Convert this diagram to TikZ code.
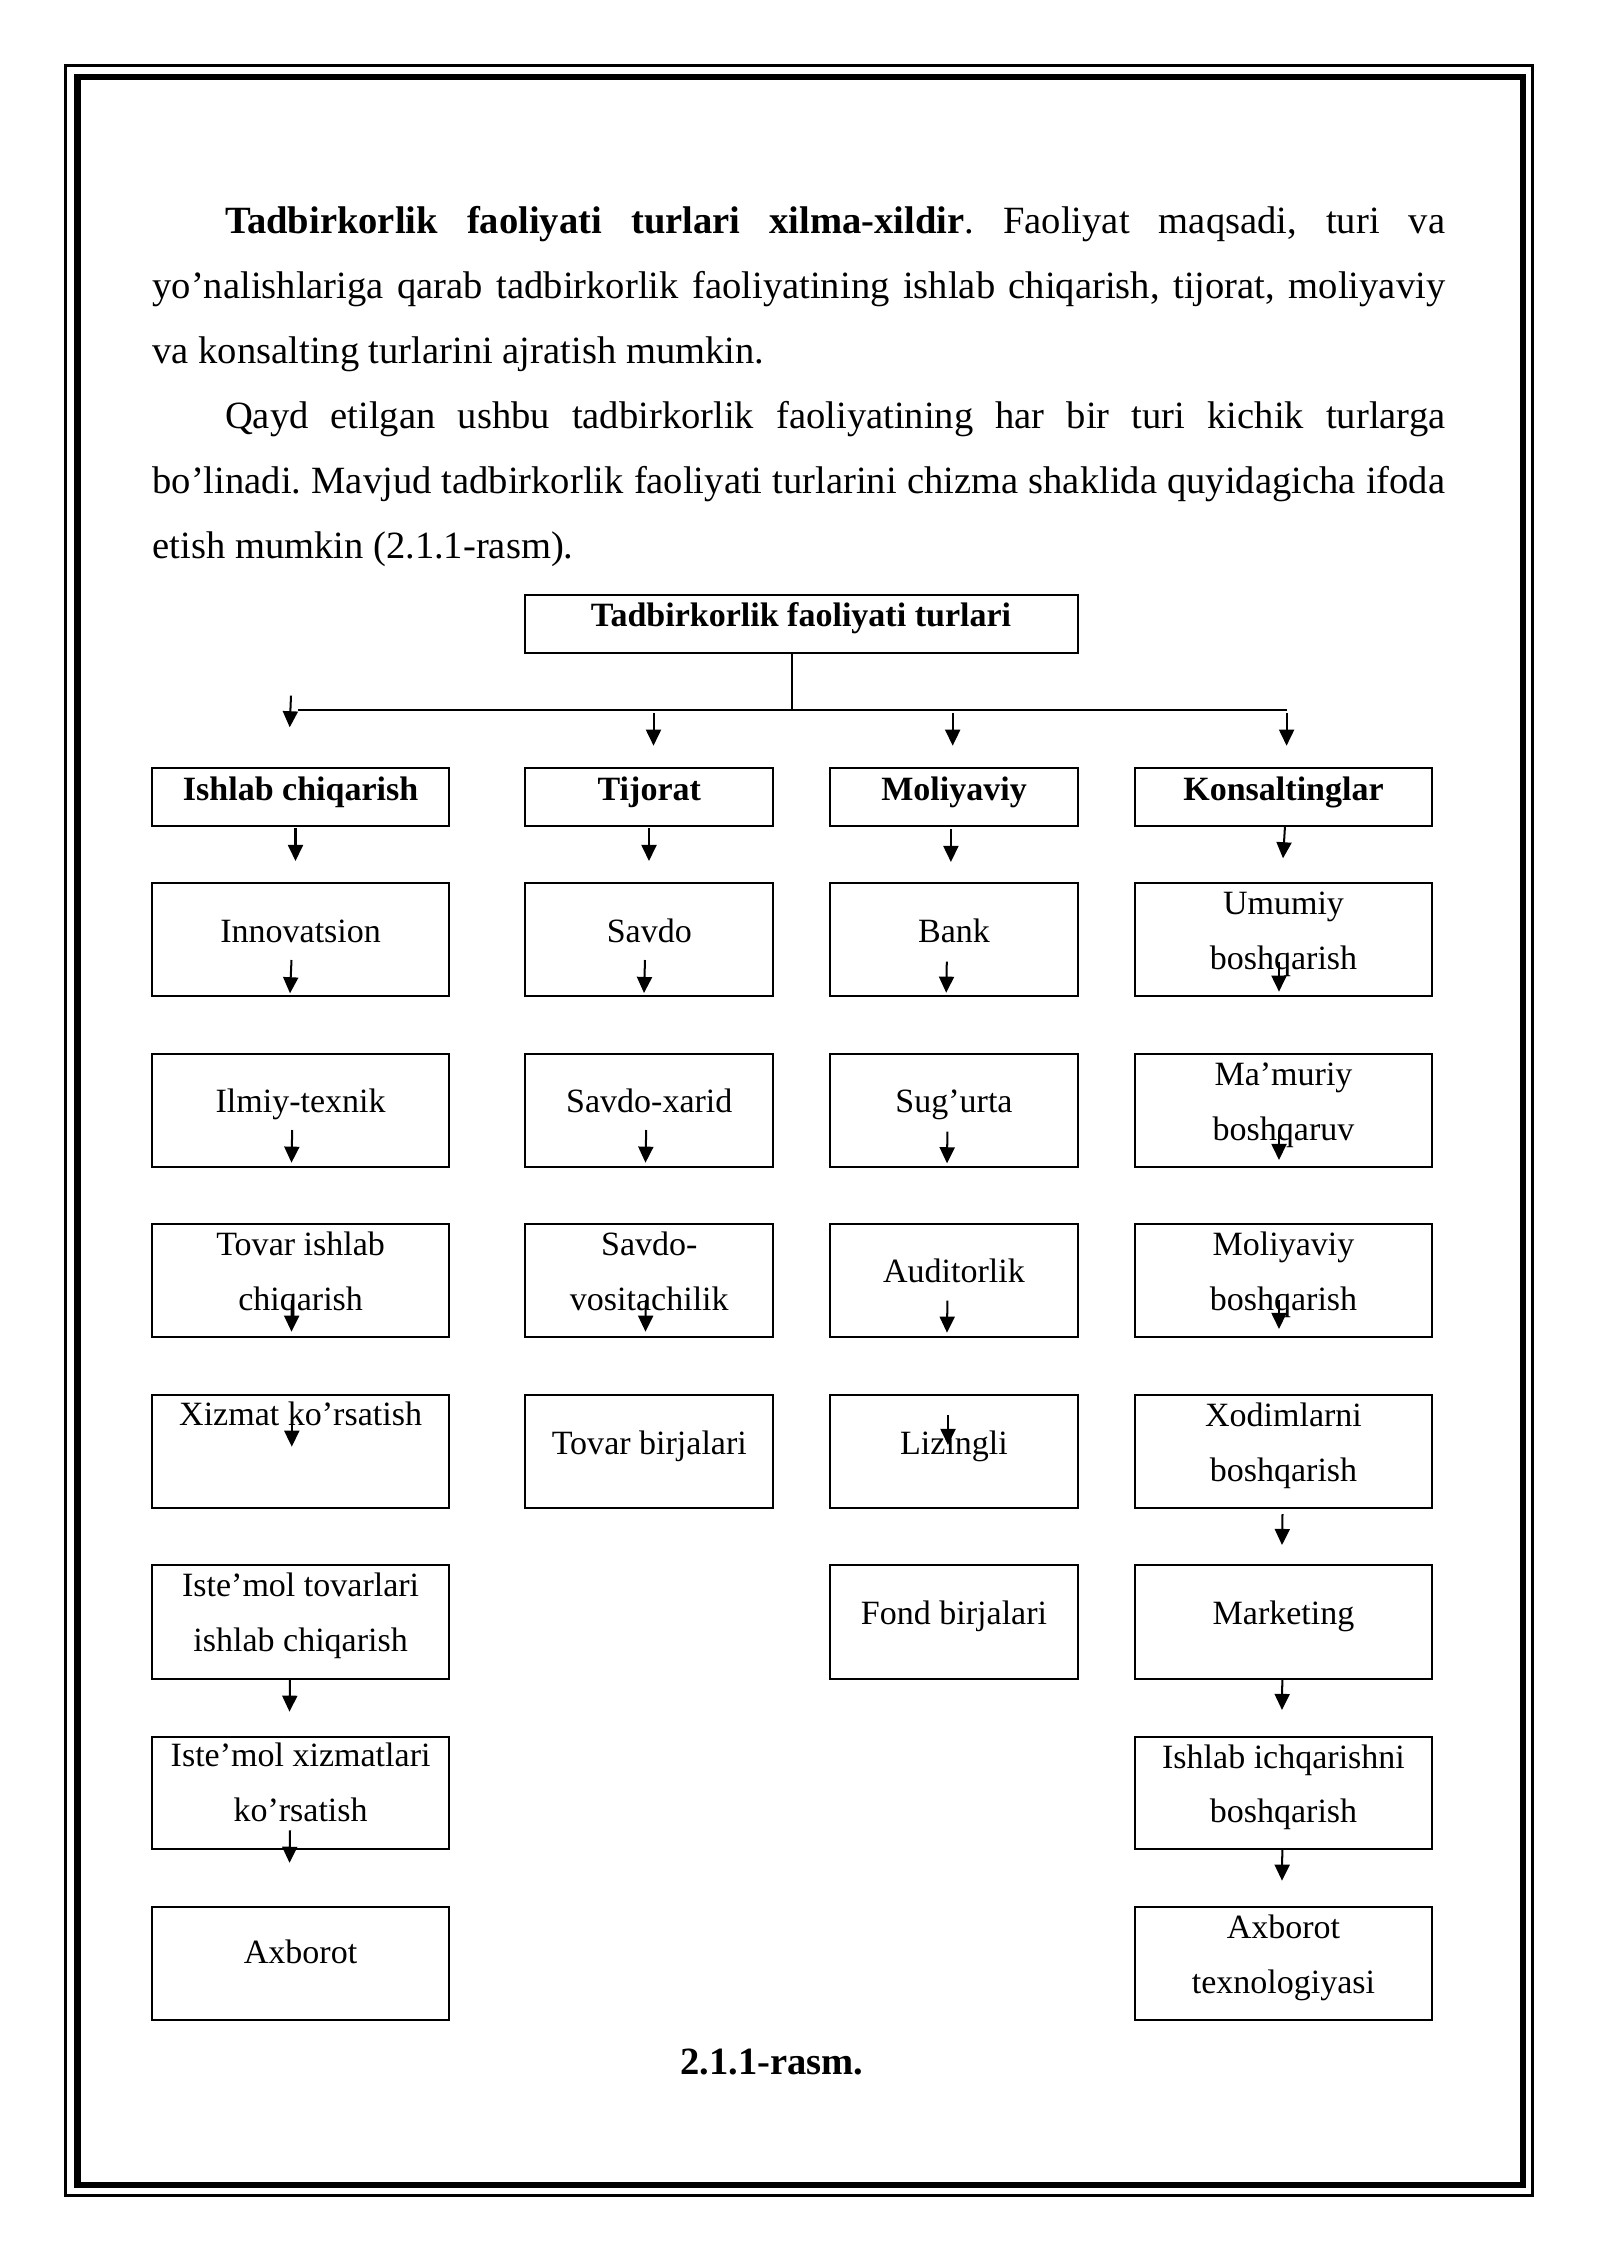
\documentclass[tikz,border=0pt]{standalone}
\usepackage{fontspec}
\setmainfont{Liberation Serif}
\frenchspacing
\usetikzlibrary{arrows.meta,fit}
\tikzset{
  box/.style={draw=black, line width=0.75pt, inner sep=0pt, rectangle},
  ln/.style={draw=black, line width=0.75pt},
  arw/.style={draw=black, line width=0.75pt, -{Triangle[length=6pt,width=5.6pt]}},
  ptxt/.style={inner sep=0pt, anchor=base west, font=\fontsize{14.4pt}{17pt}\selectfont\frenchspacing},
  dtxt/.style={inner sep=0pt, anchor=base, font=\fontsize{12.7pt}{15pt}\selectfont},
  dbold/.style={dtxt, font=\fontsize{12.7pt}{15pt}\selectfont\bfseries},
  ctxt/.style={inner sep=0pt, anchor=base, font=\fontsize{14.4pt}{17pt}\selectfont\bfseries},
  frameout/.style={draw=black, line width=1.1pt},
  framein/.style={draw=black, line width=2.4pt}
}
\newcommand\bx[5]{\node[box, fit={(#2,#3) (#4,#5)}] (#1) {};}
\newcommand\arr[5]{\coordinate (#1s) at (#2,#3); \coordinate (#1e) at (#4,#5); \draw[arw] (#1s) -- (#1e);}
\begin{document}
\begin{tikzpicture}[x=0.013125cm, y=-0.013125cm]
\useasboundingbox[fill=white] (0,0) rectangle (1600,2262);
% page frame
\draw[frameout] (65.5,65.3) rectangle (1532.5,2195.3);
\draw[framein] (77.3,77) rectangle (1522.7,2185);
% paragraph
\node[ptxt] (p1) at (224.5,233.8) {\makebox[455.6pt][s]{\textbf{Tadbirkorlik faoliyati turlari xilma-xildir}. Faoliyat maqsadi, turi va}};
\node[ptxt] (p2) at (152,298.7) {\makebox[482.6pt][s]{yo’nalishlariga qarab tadbirkorlik faoliyatining ishlab chiqarish, tijorat, moliyaviy}};
\node[ptxt] (p3) at (152,363.6) {va konsalting turlarini ajratish mumkin.};
\node[ptxt] (p4) at (224.5,428.5) {\makebox[455.6pt][s]{Qayd etilgan ushbu tadbirkorlik faoliyatining har bir turi kichik turlarga}};
\node[ptxt] (p5) at (152,493.4) {\makebox[482.6pt][s]{bo’linadi. Mavjud tadbirkorlik faoliyati turlarini chizma shaklida quyidagicha ifoda}};
\node[ptxt] (p6) at (152,558.3) {etish mumkin (2.1.1-rasm).};
% top box
\bx{top}{525.4}{595}{1077.5}{652.7}
\node[dbold] (ttop) at (801,626.7) {Tadbirkorlik faoliyati turlari};
% connector lines
\coordinate (hj) at (792,710);
\coordinate (hl) at (297.8,710);
\coordinate (hr) at (1286.6,710);
\draw[ln] (hj |- top.south) -- (hj);
\draw[ln] (hl) -- (hr);
\arr{a01}{291}{695.7}{289.7}{727.3}
\arr{a02}{653.5}{713.3}{653.5}{745.7}
\arr{a03}{952.7}{713.3}{952.7}{745.7}
\arr{a04}{1286.6}{713.3}{1286.6}{745.7}
% level 1
\bx{k1}{152.2}{767.7}{449.1}{826}
\bx{k2}{525.4}{767.7}{773.2}{826}
\bx{k3}{829.9}{767.7}{1078.1}{826}
\bx{k4}{1134.8}{767.7}{1432.1}{826}
\node[dbold] (tk1) at (300.6,800) {Ishlab chiqarish};
\node[dbold] (tk2) at (649.3,800) {Tijorat};
\node[dbold] (tk3) at (954,800) {Moliyaviy};
\node[dbold] (tk4) at (1283.5,800) {Konsaltinglar};
\arr{b1}{295.5}{828.3}{295.5}{861}
\arr{b2}{649}{828.3}{649}{861}
\arr{b3}{950.9}{829}{950.9}{862}
\arr{b4}{1285}{826}{1283}{858.3}
% row 1
\bx{c1r1}{152.2}{883.3}{449.1}{996}
\bx{c2r1}{525.4}{883.3}{773.2}{996}
\bx{c3r1}{829.9}{883.3}{1078.1}{996}
\bx{c4r1}{1134.8}{883.3}{1432.1}{996}
\node[dtxt] (tc1r1) at (300.6,942.5) {Innovatsion};
\node[dtxt] (tc2r1) at (649.3,942.5) {Savdo};
\node[dtxt] (tc3r1) at (954,942.5) {Bank};
\node[dtxt] (tc4r1a) at (1283.5,914.3) {Umumiy};
\node[dtxt] (tc4r1b) at (1283.5,969.3) {boshqarish};
\arr{r1c1}{291.5}{960}{290}{993.3}
\arr{r1c2}{645}{960}{644}{993}
\arr{r1c3}{946.8}{961.7}{946.2}{992.7}
\arr{r1c4}{1279}{962}{1279}{991.7}
% row 2
\bx{c1r2}{152.2}{1053.5}{449.1}{1166.7}
\bx{c2r2}{525.4}{1053.5}{773.2}{1166.7}
\bx{c3r2}{829.9}{1053.5}{1078.1}{1166.7}
\bx{c4r2}{1134.8}{1053.5}{1432.1}{1166.7}
\node[dtxt] (tc1r2) at (300.6,1112.5) {Ilmiy-texnik};
\node[dtxt] (tc2r2) at (649.3,1112.5) {Savdo-xarid};
\node[dtxt] (tc3r2) at (954,1112.5) {Sug’urta};
\node[dtxt] (tc4r2a) at (1283.5,1085.3) {Ma’muriy};
\node[dtxt] (tc4r2b) at (1283.5,1140.3) {boshqaruv};
\arr{r2c1}{292.2}{1130}{291.5}{1162.7}
\arr{r2c2}{646.2}{1130}{645.5}{1162.7}
\arr{r2c3}{947.4}{1131.7}{947}{1163.3}
\arr{r2c4}{1279}{1133}{1279}{1160}
% row 3
\bx{c1r3}{152.2}{1224.3}{449.1}{1336.7}
\bx{c2r3}{525.4}{1224.3}{773.2}{1336.7}
\bx{c3r3}{829.9}{1224.3}{1078.1}{1336.7}
\bx{c4r3}{1134.8}{1224.3}{1432.1}{1336.7}
\node[dtxt] (tc1r3a) at (300.6,1255.8) {Tovar ishlab};
\node[dtxt] (tc1r3b) at (300.6,1310.8) {chiqarish};
\node[dtxt] (tc2r3a) at (649.3,1255.8) {Savdo-};
\node[dtxt] (tc2r3b) at (649.3,1310.8) {vositachilik};
\node[dtxt] (tc3r3) at (954,1282.8) {Auditorlik};
\node[dtxt] (tc4r3a) at (1283.5,1255.8) {Moliyaviy};
\node[dtxt] (tc4r3b) at (1283.5,1310.8) {boshqarish};
\arr{r3c1}{291.8}{1300}{291.5}{1331.7}
\arr{r3c2}{645.8}{1300}{645.5}{1331.7}
\arr{r3c3}{947.4}{1300.7}{947}{1332.7}
\arr{r3c4}{1279}{1300}{1279}{1329}
% row 4
\bx{c1r4}{152.2}{1395}{449.1}{1508.3}
\bx{c2r4}{525.4}{1395}{773.2}{1508.3}
\bx{c3r4}{829.9}{1395}{1078.1}{1508.3}
\bx{c4r4}{1134.8}{1395}{1432.1}{1508.3}
\node[dtxt] (tc1r4) at (300.6,1425.8) {Xizmat ko’rsatish};
\node[dtxt] (tc2r4) at (649.3,1454) {Tovar birjalari};
\node[dtxt] (tc3r4) at (954,1454) {Lizingli};
\node[dtxt] (tc4r4a) at (1283.5,1426) {Xodimlarni};
\node[dtxt] (tc4r4b) at (1283.5,1481) {boshqarish};
\arr{r4c1}{291.8}{1403}{291.8}{1446.7}
\arr{r4c3}{948}{1415}{948}{1445}
\arr{r4c4}{1282.5}{1514}{1282}{1545}
% row 5
\bx{c1r5}{152.2}{1565}{449.1}{1679}
\bx{c3r5}{829.9}{1565}{1078.1}{1679}
\bx{c4r5}{1134.8}{1565}{1432.1}{1679}
\node[dtxt] (tc1r5a) at (300.6,1596.8) {Iste’mol tovarlari};
\node[dtxt] (tc1r5b) at (300.6,1651.8) {ishlab chiqarish};
\node[dtxt] (tc3r5) at (954,1624.8) {Fond birjalari};
\node[dtxt] (tc4r5) at (1283.5,1624.8) {Marketing};
\arr{r5c1}{290}{1679.8}{289.5}{1711.7}
\arr{r5c4}{1282.3}{1679.3}{1282}{1710}
% row 6
\bx{c1r6}{152.2}{1736.5}{449.1}{1849}
\bx{c4r6}{1134.8}{1736.5}{1432.1}{1849}
\node[dtxt] (tc1r6a) at (300.6,1766.8) {Iste’mol xizmatlari};
\node[dtxt] (tc1r6b) at (300.6,1821.8) {ko’rsatish};
\node[dtxt] (tc4r6a) at (1283.5,1768) {Ishlab ichqarishni};
\node[dtxt] (tc4r6b) at (1283.5,1822.7) {boshqarish};
\arr{r6c1}{290}{1830.3}{289.5}{1862.8}
\arr{r6c4}{1282.3}{1850}{1282}{1880.7}
% row 7
\bx{c1r7}{152.2}{1906.7}{449.1}{2020}
\bx{c4r7}{1134.8}{1906.7}{1432.1}{2020}
\node[dtxt] (tc1r7) at (300.6,1963.5) {Axborot};
\node[dtxt] (tc4r7a) at (1283.5,1938.5) {Axborot};
\node[dtxt] (tc4r7b) at (1283.5,1993.5) {texnologiyasi};
% caption
\node[ctxt] (cap) at (772,2074) {2.1.1-rasm.};
\end{tikzpicture}
\end{document}
